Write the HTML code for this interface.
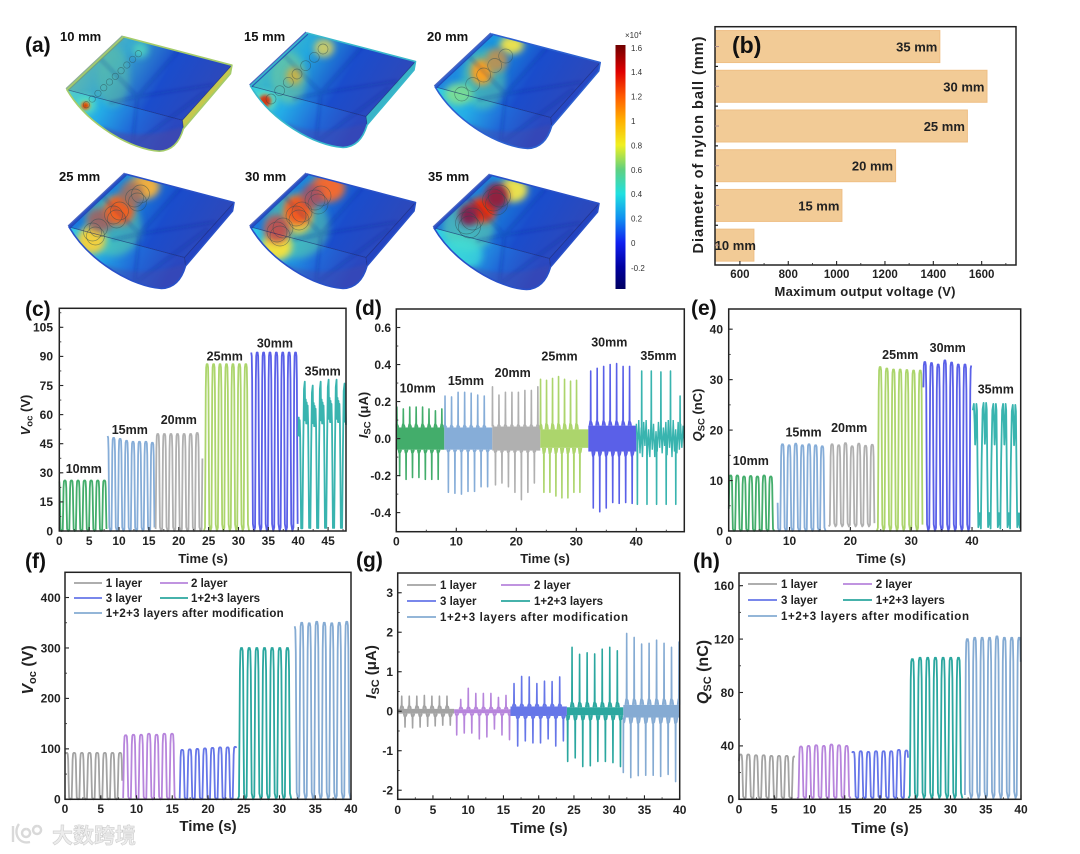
<!DOCTYPE html>
<html lang="en">
<head>
<meta charset="utf-8">
<title>Nylon ball triboelectric output figure</title>
<style>
html,body{margin:0;padding:0;background:#fff;}
body{width:1080px;height:854px;overflow:hidden;}
svg{display:block;filter:blur(0.35px);font-family:"Liberation Sans","Noto Sans CJK SC",sans-serif;}
.pl{font-weight:700;font-size:21px;fill:#111;}
.bx{font-weight:700;font-size:13px;fill:#111;}
.cb{font-size:8px;fill:#333;}
.tt{font-weight:700;fill:#222;}
</style>
</head>
<body>
<svg id="figure" xmlns="http://www.w3.org/2000/svg" width="1080" height="854" viewBox="0 0 1080 854">
  <defs>
    <linearGradient id="jet" x1="0" y1="0" x2="0" y2="1">
      <stop offset="0" stop-color="#700000"/><stop offset=".11" stop-color="#e00000"/>
      <stop offset=".21" stop-color="#ff5a00"/><stop offset=".31" stop-color="#ffb000"/>
      <stop offset=".41" stop-color="#f0f020"/><stop offset=".51" stop-color="#60d080"/>
      <stop offset=".61" stop-color="#20e0e0"/><stop offset=".71" stop-color="#1090f0"/>
      <stop offset=".81" stop-color="#1020f0"/><stop offset=".91" stop-color="#0000a0"/>
      <stop offset="1" stop-color="#000060"/>
    </linearGradient>
    <filter id="soft" x="-60%" y="-60%" width="220%" height="220%"><feGaussianBlur stdDeviation="3.5"/></filter>
    <filter id="softer" x="-60%" y="-60%" width="220%" height="220%"><feGaussianBlur stdDeviation="1.6"/></filter>
    <clipPath id="boxClip"><path d="M0,0 L108.5,28.5 L107,37 L60,92 C56,106 48,114 36,114.5 C8,113 -36,88 -56.5,53 Z"/></clipPath>
  </defs>
  <rect width="1080" height="854" fill="#fff"/>

  <text class="pl" x="25" y="52">(a)</text>
  <text class="pl" x="25" y="316">(c)</text>
  <text class="pl" x="355" y="315">(d)</text>
  <text class="pl" x="691" y="315">(e)</text>
  <text class="pl" x="25" y="568">(f)</text>
  <text class="pl" x="356" y="567">(g)</text>
  <text class="pl" x="693" y="568">(h)</text>

  <g id="simulations"></g>

  <g>
    <text class="bx" x="60" y="41">10 mm</text>
    <text class="bx" x="244" y="41">15 mm</text>
    <text class="bx" x="427" y="41">20 mm</text>
    <text class="bx" x="59" y="181">25 mm</text>
    <text class="bx" x="245" y="181">30 mm</text>
    <text class="bx" x="428" y="181">35 mm</text>
  </g>

  <g>
    <rect x="615.5" y="45" width="10" height="244" fill="url(#jet)"/>
    <text class="cb" x="625" y="38" font-size="7">×10<tspan dy="-3" font-size="5">4</tspan></text>
    <text class="cb" x="631" y="51">1.6</text>
    <text class="cb" x="631" y="75">1.4</text>
    <text class="cb" x="631" y="99.5">1.2</text>
    <text class="cb" x="631" y="124">1</text>
    <text class="cb" x="631" y="148.5">0.8</text>
    <text class="cb" x="631" y="173">0.6</text>
    <text class="cb" x="631" y="197">0.4</text>
    <text class="cb" x="631" y="221.5">0.2</text>
    <text class="cb" x="631" y="246">0</text>
    <text class="cb" x="631" y="271">-0.2</text>
  </g>

  <g id="plots"></g>

  <text class="pl" x="732" y="53" style="font-size:23px">(b)</text>

  <text class="tt" font-size="14.5" textLength="217" transform="translate(703,145) rotate(-90)" text-anchor="middle">Diameter of nylon ball (mm)</text>
  <text class="tt" font-size="13" textLength="181" x="865" y="296" text-anchor="middle">Maximum output voltage (V)</text>

  <text class="tt" font-size="13" x="203" y="563" text-anchor="middle">Time (s)</text>
  <text class="tt" font-size="13" x="545" y="563" text-anchor="middle">Time (s)</text>
  <text class="tt" font-size="13" x="881" y="563" text-anchor="middle">Time (s)</text>
  <text class="tt" font-size="15" x="208" y="831" text-anchor="middle">Time (s)</text>
  <text class="tt" font-size="15" x="539" y="833" text-anchor="middle">Time (s)</text>
  <text class="tt" font-size="15" x="880" y="833" text-anchor="middle">Time (s)</text>

  <text class="tt" font-size="13" transform="translate(30,415) rotate(-90)" text-anchor="middle"><tspan font-style="italic">V</tspan><tspan dy="2.5" font-size="9.5">oc</tspan><tspan dy="-2.5"> (V)</tspan></text>
  <text class="tt" font-size="13" transform="translate(368,415) rotate(-90)" text-anchor="middle"><tspan font-style="italic">I</tspan><tspan dy="2.5" font-size="9.5">SC</tspan><tspan dy="-2.5"> (μA)</tspan></text>
  <text class="tt" font-size="13" transform="translate(702,415) rotate(-90)" text-anchor="middle"><tspan font-style="italic">Q</tspan><tspan dy="2.5" font-size="9.5">SC</tspan><tspan dy="-2.5"> (nC)</tspan></text>
  <text class="tt" font-size="16" transform="translate(33,670) rotate(-90)" text-anchor="middle"><tspan font-style="italic">V</tspan><tspan dy="3" font-size="11">oc</tspan><tspan dy="-3"> (V)</tspan></text>
  <text class="tt" font-size="15" transform="translate(376,672) rotate(-90)" text-anchor="middle"><tspan font-style="italic">I</tspan><tspan dy="3" font-size="11">SC</tspan><tspan dy="-3"> (μA)</tspan></text>
  <text class="tt" font-size="16" transform="translate(708,672) rotate(-90)" text-anchor="middle"><tspan font-style="italic">Q</tspan><tspan dy="3" font-size="11">SC</tspan><tspan dy="-3"> (nC)</tspan></text>

  <g opacity=".95">
    <path d="M13,826 L13,842 M19,824 C13,832 18,845 30,842 M26,829 a4,4 0 1 0 .1,0 M37,826 a4,4 0 1 0 .1,0" fill="none" stroke="#d8d8d8" stroke-width="2.4"/>
    <text x="52" y="843" font-size="21" font-weight="700" fill="#ececec" stroke="#cdcdcd" stroke-width=".6" font-family="'Liberation Sans','Noto Sans CJK SC',sans-serif">大数跨境</text>
  </g>
</svg>

<script>
/* ===== (b) bar chart data ===== */
const bCategories = ['35 mm', '30 mm', '25 mm', '20 mm', '15 mm', '10 mm'];
const bValues = [1427, 1622, 1541, 1244, 1022, 658];
const bXTicks = [600, 800, 1000, 1200, 1400, 1600];
const bXMinor = [700, 900, 1100, 1300, 1500, 1700];

/* ===== segment labels ===== */
const sizeLabels = ['10mm', '15mm', '20mm', '25mm', '30mm', '35mm'];
const layerLabels = ['1 layer', '2 layer', '3 layer', '1+2+3 layers', '1+2+3 layers after modification'];

/* ===== (c) Voc vs size ===== */
const cXTicks = [0, 5, 10, 15, 20, 25, 30, 35, 40, 45];
const cYTicks = [0, 15, 30, 45, 60, 75, 90, 105];
const cFirstPeak = [-0.15, 8.03, 16.5, 24.76, 32.07, 39.77];
const cPeriod = [1.1, 1.08, 1.1, 1.08, 1.07, 1.33];
const cPeaks = [
  [26, 26, 26, 26, 26, 26, 26, 26],
  [49, 48, 47.5, 46.5, 46, 46, 46, 45.5],
  [50, 50, 50, 50, 50, 50, 50.5, 44],
  [86, 86, 86, 86, 86, 86, 86],
  [92, 92, 92, 92, 92, 92, 92, 92],
  [68, 77, 75, 77, 78, 78, 76, 76]
];
const cLabelTimes = [4.1, 11.8, 20.0, 27.7, 36.1, 44.1];
const cLabelValues = [32.3, 52.4, 57.6, 90.2, 97, 82.5];

/* ===== (d) Isc vs size ===== */
const dXTicks = [0, 10, 20, 30, 40];
const dYTicks = [-0.4, -0.2, 0.0, 0.2, 0.4, 0.6];
const dUpFirst = [0.1, 8.12, 16.03, 24.04, 32.4, 40.9];
const dDownFirst = [0.56, 8.68, 16.53, 24.6, 32.83, 40.18];
const dPeriod = [1.07, 1.09, 1.08, 1.0, 1.08, 1.6];
const dUpPeaks = [
  [0.17, 0.16, 0.17, 0.17, 0.17, 0.16, 0.15, 0.16],
  [0.23, 0.225, 0.25, 0.25, 0.245, 0.235, 0.23],
  [0.28, 0.235, 0.25, 0.25, 0.25, 0.26, 0.26, 0.28],
  [0.32, 0.315, 0.325, 0.335, 0.32, 0.31, 0.315],
  [0.365, 0.38, 0.39, 0.40, 0.405, 0.39, 0.39],
  [0.365, 0.365, 0.36, 0.365, 0.23]
];
const dDownPeaks = [
  [-0.2, -0.22, -0.21, -0.21, -0.22, -0.22, -0.22],
  [-0.29, -0.295, -0.30, -0.285, -0.285, -0.26, -0.26],
  [-0.25, -0.24, -0.26, -0.29, -0.33, -0.29, -0.24],
  [-0.29, -0.29, -0.31, -0.32, -0.32, -0.29, -0.29],
  [-0.375, -0.395, -0.375, -0.345, -0.35, -0.345, -0.35],
  [-0.355, -0.355, -0.355, -0.355, -0.355]
];
const dBand = [0.06, 0.06, 0.065, 0.05, 0.07, 0];
const dBump = [1.3, 1.2, 1.15, 1.6, 1.35, 1];
const dRipple = [0.08, -0.05, 0.10, -0.08, 0.06, -0.10, 0.09, -0.04, 0.10, -0.09, 0.05, -0.10, 0.10, -0.06, 0.08, -0.10, 0.04, -0.07, 0.09, -0.05, 0.10, -0.08, 0.06, -0.04, 0.09, -0.09, 0.10, -0.05, 0.07, -0.10, 0.10, -0.07, 0.05, -0.08, 0.09, -0.06, 0.08, -0.05, 0.07, -0.04];
const dLabelTimes = [3.56, 11.6, 19.4, 27.2, 35.5, 43.7];
const dLabelValues = [0.272, 0.315, 0.357, 0.446, 0.523, 0.449];

/* ===== (e) Qsc vs size ===== */
const eXTicks = [0, 10, 20, 30, 40];
const eYTicks = [0, 10, 20, 30, 40];
const eFirstPeak = [0.33, 7.76, 17.0, 24.9, 32.25, 40.3];
const ePeriod = [1.1, 1.09, 1.1, 1.1, 1.1, 1.6];
const ePeaks = [
  [11, 11, 10.8, 10.9, 10.8, 11, 10.8],
  [14, 17.2, 17, 17.3, 17, 17.2, 17, 16.8],
  [17.2, 17, 17.4, 16.8, 17.3, 16.9, 17.1],
  [32.5, 32.2, 32, 32, 31.9, 31.8, 31.8],
  [33.5, 33.3, 33, 33.8, 33.4, 33, 33, 32.8],
  [25.2, 25.4, 25.2, 25.2, 25]
];
const eBase = [0, 0, 0.9, 0, 0, 0];
const eLabelTimes = [3.63, 12.3, 19.8, 28.2, 36, 43.9];
const eLabelValues = [14, 19.6, 20.5, 35, 36.4, 28.1];

/* ===== (f) Voc vs layers ===== */
const fgXTicks = [0, 5, 10, 15, 20, 25, 30, 35, 40];
const fYTicks = [0, 100, 200, 300, 400];
const fFirstPeak = [0.23, 8.5, 16.4, 24.7, 32.07];
const fPeriod = [1.07, 1.08, 1.06, 1.07, 1.05];
const fPeaks = [
  [92, 92, 92, 92, 92, 92, 92, 92],
  [127, 128, 128, 130, 128, 130, 130],
  [98, 99, 100, 101, 102, 103, 103, 104],
  [300, 300, 300, 300, 300, 300, 300],
  [343, 350, 349, 352, 350, 349, 350, 352]
];

/* ===== (g) Isc vs layers ===== */
const gYTicks = [-2, -1, 0, 1, 2, 3];
const gUpFirst = [0.57, 8.94, 16.5, 24.73, 32.48];
const gDownFirst = [1.04, 8.37, 17.02, 24.11, 32.0];
const gPeriod = [1.07, 1.07, 1.08, 1.07, 1.06];
const gUpPeaks = [
  [0.38, 0.38, 0.38, 0.4, 0.38, 0.38, 0.38],
  [0.3, 0.58, 0.45, 0.45, 0.45, 0.35, 0.4],
  [0.7, 0.88, 0.87, 0.7, 0.76, 0.75, 0.87],
  [1.62, 1.44, 1.48, 1.45, 1.57, 1.62, 1.53],
  [1.97, 1.87, 1.7, 1.72, 1.8, 1.72, 1.62, 1.75]
];
const gDownPeaks = [
  [-0.4, -0.42, -0.4, -0.38, -0.37, -0.35, -0.35],
  [-0.6, -0.55, -0.55, -0.7, -0.65, -0.45, -0.6, -0.72],
  [-0.88, -0.75, -0.8, -0.8, -0.7, -0.88, -0.75],
  [-1.27, -1.18, -1.4, -1.38, -1.27, -1.27, -1.3, -1.4],
  [-1.55, -1.68, -1.63, -1.62, -1.62, -1.65, -1.6, -1.78]
];
const gBand = [0.06, 0.05, 0.12, 0.1, 0.16];
const gBump = [2.2, 2, 1.5, 2.2, 1.9];

/* ===== (h) Qsc vs layers ===== */
const hYTicks = [0, 40, 80, 120, 160];
const hFirstPeak = [0.24, 8.8, 16.2, 24.6, 32.4];
const hPeriod = [1.09, 1.08, 1.08, 1.09, 1.05];
const hPeaks = [
  [33.5, 33.5, 33, 33, 32.5, 32.5, 32.5, 32],
  [39.5, 40, 40.5, 40, 41, 40.5, 40],
  [35.5, 36, 35.5, 36, 36, 36, 37, 36.5],
  [105, 106, 106, 106, 106, 106, 106],
  [120, 121, 121, 121, 122, 121, 121, 121]
];

/* ===== styling & layout (not data) ===== */
const sizeColors = ['#43ad6b', '#86add8', '#b0b0b0', '#acd56c', '#5a60e8', '#39b4af'];
const layerColors = ['#a3a3a3', '#b785dc', '#6676e8', '#2ba79f', '#85abd3'];
const pulseU = [-0.5, -0.34, -0.28, -0.22, -0.16, -0.08, 0.06, 0.14, 0.2, 0.26, 0.32, 0.5];
const pulseV = [0, 0.02, 0.4, 0.85, 0.98, 1, 1, 0.98, 0.85, 0.4, 0.04, 0];
const ruggedCU = [-0.3, -0.2, -0.1, 0, 0.06, 0.12, 0.18, 0.24, 0.3, 0.36, 0.42, 0.48, 0.54, 0.58, 0.62, 0.66, 0.7];
const ruggedCV = [0.02, 0.55, 0.95, 1, 0.74, 0.88, 0.72, 0.86, 0.72, 0.84, 0.72, 0.4, 0.02, 0.18, 0.08, 0.18, 0.02];
const ruggedEU = [-0.28, -0.2, -0.1, 0, 0.08, 0.13, 0.2, 0.26, 0.32, 0.38, 0.46, 0.52, 0.56, 0.62, 0.66, 0.72];
const ruggedEV = [0.02, 0.55, 0.95, 1, 0.85, 0.68, 0.8, 1, 0.95, 0.5, 0.03, 0.05, 0.14, 0.06, 0.14, 0.02];

const pB = {x0: 715, x1: 1016, y0: 265, y1: 26.7, xMin: 497, xMax: 1742, yMin: 0, yMax: 6};
const pC = {x0: 59.3, x1: 346, y0: 531, y1: 308.3, xMin: 0, xMax: 48, yMin: 0, yMax: 114.8};
const pD = {x0: 396.3, x1: 684.3, y0: 531.7, y1: 309, xMin: 0, xMax: 48, yMin: -0.503, yMax: 0.7};
const pE = {x0: 728.7, x1: 1020.7, y0: 531, y1: 309, xMin: 0, xMax: 48, yMin: 0, yMax: 44};
const pF = {x0: 65, x1: 351, y0: 799.3, y1: 572.3, xMin: 0, xMax: 40, yMin: 0, yMax: 450};
const pG = {x0: 397.7, x1: 679.7, y0: 799.3, y1: 573, xMin: 0, xMax: 40, yMin: -2.23, yMax: 3.5};
const pH = {x0: 739, x1: 1021, y0: 799.3, y1: 573, xMin: 0, xMax: 40, yMin: 0, yMax: 169.5};

const NS = 'http://www.w3.org/2000/svg';
const plots = document.getElementById('plots');
const sims = document.getElementById('simulations');
const defs = document.querySelector('#figure defs');

function mk(tag, attrs, parent) {
  const el = document.createElementNS(NS, tag);
  for (const k in attrs) el.setAttribute(k, attrs[k]);
  parent.appendChild(el);
  return el;
}
function xScale(p, v) { return p.x0 + (v - p.xMin) / (p.xMax - p.xMin) * (p.x1 - p.x0); }
function yScale(p, v) { return p.y0 + (v - p.yMin) / (p.yMax - p.yMin) * (p.y1 - p.y0); }
function fmt(n) { return n.toFixed(2); }

function drawText(parent, x, y, str, anchor, size, weight, name) {
  const el = mk('text', {x: fmt(x), y: fmt(y), 'text-anchor': anchor, 'font-size': size, 'font-weight': weight, fill: '#222'}, parent);
  el.textContent = str;
  
  
  return el;
}

function drawAxes(key, p, xTicks, xStepMinor, yTicks, yStepMinor, xLabelY, yLabelX, yDecimals) {
  const g = mk('g', {}, plots);
  
  
  const frame = mk('rect', {x: p.x0, y: p.y1, width: p.x1 - p.x0, height: p.y0 - p.y1, fill: 'none', stroke: '#222', 'stroke-width': 1.5}, g);
  
  
  xTicks.forEach(function (v) {
    const tick = mk('line', {x1: fmt(xScale(p, v)), x2: fmt(xScale(p, v)), y1: p.y0, y2: p.y0 - 4, stroke: '#222', 'stroke-width': 1.1}, g);
    
    
    drawText(g, xScale(p, v), xLabelY, String(v), 'middle', 12, 700, key + '-x-tick-label');
  });
  for (let v = p.xMin + xStepMinor; v < p.xMax; v += xStepMinor) {
    const minor = mk('line', {x1: fmt(xScale(p, v)), x2: fmt(xScale(p, v)), y1: p.y0, y2: p.y0 - 2, stroke: '#333', 'stroke-width': 0.9}, g);
    
    
  }
  yTicks.forEach(function (v) {
    const tick = mk('line', {x1: p.x0, x2: p.x0 + 4, y1: fmt(yScale(p, v)), y2: fmt(yScale(p, v)), stroke: '#222', 'stroke-width': 1.1}, g);
    
    
    drawText(g, yLabelX, yScale(p, v) + 4.3, v.toFixed(yDecimals), 'end', 12, 700, key + '-y-tick-label');
  });
  for (let v = yTicks[0] + yStepMinor / 1; v < p.yMax; v += yStepMinor) {
    const minor = mk('line', {x1: p.x0, x2: p.x0 + 2, y1: fmt(yScale(p, v)), y2: fmt(yScale(p, v)), stroke: '#333', 'stroke-width': 0.9}, g);
    
    
  }
}

function waveform(key, p, segName, color, first, period, peaks, base, tMin, tMax, shapeU, shapeV) {
  const pts = [];
  peaks.forEach(function (peak, i) {
    const centre = first + i * period;
    shapeU.forEach(function (u, j) {
      const t = centre + u * period;
      if (t < tMin || t > tMax) return;
      const v = base + (peak - base) * shapeV[j];
      pts.push(fmt(xScale(p, t)) + ',' + fmt(yScale(p, v)));
    });
  });
  const el = mk('polyline', {points: pts.join(' '), fill: 'none', stroke: color, 'stroke-width': 1.8, 'stroke-linejoin': 'round'}, plots);
  
  
}

function spikeTrain(key, p, segName, color, first, period, peaks, band, bump, tMin, tMax) {
  let d = '';
  peaks.forEach(function (peak, i) {
    const t = first + i * period;
    if (t < tMin || t > tMax) return;
    const sign = peak >= 0 ? 1 : -1;
    const b = band * sign;
    const seq = [[t - 0.2, b], [t - 0.09, b * bump], [t - 0.03, b * bump], [t, peak], [t + 0.03, b * bump], [t + 0.16, b * bump * 0.9], [t + 0.26, b]];
    seq.forEach(function (q, n) {
      const tt = Math.max(tMin, Math.min(tMax, q[0]));
      d += (n ? 'L' : 'M') + fmt(xScale(p, tt)) + ',' + fmt(yScale(p, q[1]));
    });
  });
  const el = mk('path', {d: d, fill: band ? color : 'none', 'fill-opacity': band ? 0.9 : 0, stroke: color, 'stroke-width': 1.6, 'stroke-linejoin': 'round'}, plots);
  
  
}

function bandRect(key, p, segName, color, band, tMin, tMax) {
  if (!band) return;
  const el = mk('rect', {x: fmt(xScale(p, tMin)), width: fmt(xScale(p, tMax) - xScale(p, tMin)), y: fmt(yScale(p, band)), height: fmt(yScale(p, -band) - yScale(p, band)), fill: color}, plots);
  
  
}

function drawLegend(key, rowY, line1X, text1X, line2X, text2X, lineW, modWidth) {
  const g = mk('g', {}, plots);
  
  
  const cols = [[line1X, text1X, 0], [line2X, text2X, 0], [line1X, text1X, 1], [line2X, text2X, 1], [line1X, text1X, 2]];
  layerLabels.forEach(function (name, i) {
    const c = cols[i];
    const swatch = mk('line', {x1: c[0], x2: c[0] + lineW, y1: rowY[c[2]], y2: rowY[c[2]], stroke: layerColors[i], 'stroke-width': 1.7}, g);
    
    
    const t = drawText(g, c[1], rowY[c[2]] + 4, name, 'start', 11.5, 700, key + '-legend-entry');
    if (i === 4) t.setAttribute('textLength', modWidth);
  });
}

/* ---------- (b) ---------- */
bValues.forEach(function (v, i) {
  const band = (pB.y0 - pB.y1) / bCategories.length;
  const cy = pB.y1 + band * (i + 0.5);
  const bar = mk('rect', {x: pB.x0, y: fmt(cy - 16), width: fmt(xScale(pB, v) - pB.x0), height: 32, fill: '#f2cb96', stroke: '#efbf85', 'stroke-width': 1}, plots);
  
  
});
const bFrame = mk('rect', {x: pB.x0, y: pB.y1, width: pB.x1 - pB.x0, height: pB.y0 - pB.y1, fill: 'none', stroke: '#222', 'stroke-width': 1.5}, plots);


bValues.forEach(function (v, i) {
  const band = (pB.y0 - pB.y1) / bCategories.length;
  const cy = pB.y1 + band * (i + 0.5);
  const small = i === bValues.length - 1;
  drawText(plots, small ? xScale(pB, v) + 2 : xScale(pB, v) - 2.5, cy + 5, bCategories[i], 'end', 13, 700, 'bar-label');
  const tc = mk('line', {x1: pB.x0, x2: pB.x0 + 4, y1: fmt(cy), y2: fmt(cy), stroke: '#a88', 'stroke-width': 1}, plots);
  
  
  if (i > 0) {
    const tb = mk('line', {x1: pB.x0, x2: pB.x0 + 3, y1: fmt(pB.y1 + band * i), y2: fmt(pB.y1 + band * i), stroke: '#222', 'stroke-width': 1.2}, plots);
    
    
  }
});
bXTicks.forEach(function (v) {
  const tick = mk('line', {x1: fmt(xScale(pB, v)), x2: fmt(xScale(pB, v)), y1: pB.y0, y2: pB.y0 - 4, stroke: '#222', 'stroke-width': 1.1}, plots);
  
  
  drawText(plots, xScale(pB, v), 278, String(v), 'middle', 11.5, 700, 'b-x-tick-label');
});
bXMinor.forEach(function (v) {
  const tick = mk('line', {x1: fmt(xScale(pB, v)), x2: fmt(xScale(pB, v)), y1: pB.y0, y2: pB.y0 - 2, stroke: '#333', 'stroke-width': 0.9}, plots);
  
  
});

/* ---------- (c) ---------- */
cPeaks.forEach(function (peaks, i) {
  const rugged = i === 5;
  waveform('c', pC, sizeLabels[i], sizeColors[i], cFirstPeak[i], cPeriod[i], peaks, 0, i * 8, i * 8 + 8, rugged ? ruggedCU : pulseU, rugged ? ruggedCV : pulseV);
});
drawAxes('c', pC, cXTicks, 2.5, cYTicks, 7.5, 545, 53, 0);
sizeLabels.forEach(function (name, i) {
  drawText(plots, xScale(pC, cLabelTimes[i]), yScale(pC, cLabelValues[i]) + 4.5, name, 'middle', 12.5, 700, 'c-segment-label');
});

/* ---------- (d) ---------- */
dUpPeaks.forEach(function (peaks, i) {
  const s = i * 8, e = s + 8;
  bandRect('d', pD, sizeLabels[i], sizeColors[i], dBand[i], s, e);
  if (i === 5) {
    const rip = dRipple.map(function (v, n) {
      return fmt(xScale(pD, s + n * 8 / (dRipple.length - 1))) + ',' + fmt(yScale(pD, v));
    }).join(' ');
    const rp = mk('polyline', {points: rip, fill: 'none', stroke: sizeColors[i], 'stroke-width': 1.4}, plots);
    
    
  }
  spikeTrain('d', pD, sizeLabels[i], sizeColors[i], dUpFirst[i], dPeriod[i], peaks, dBand[i], dBump[i], s, e);
  spikeTrain('d', pD, sizeLabels[i], sizeColors[i], dDownFirst[i], dPeriod[i], dDownPeaks[i], dBand[i], dBump[i], s, e);
});
drawAxes('d', pD, dXTicks, 5, dYTicks, 0.1, 545.5, 391, 1);
sizeLabels.forEach(function (name, i) {
  drawText(plots, xScale(pD, dLabelTimes[i]), yScale(pD, dLabelValues[i]) + 4.5, name, 'middle', 12.5, 700, 'd-segment-label');
});

/* ---------- (e) ---------- */
ePeaks.forEach(function (peaks, i) {
  const rugged = i === 5;
  waveform('e', pE, sizeLabels[i], sizeColors[i], eFirstPeak[i], ePeriod[i], peaks, eBase[i], i * 8, i * 8 + 8, rugged ? ruggedEU : pulseU, rugged ? ruggedEV : pulseV);
});
drawAxes('e', pE, eXTicks, 5, eYTicks, 5, 545, 723, 0);
sizeLabels.forEach(function (name, i) {
  drawText(plots, xScale(pE, eLabelTimes[i]), yScale(pE, eLabelValues[i]) + 4.5, name, 'middle', 12.5, 700, 'e-segment-label');
});

/* ---------- (f) ---------- */
fPeaks.forEach(function (peaks, i) {
  waveform('f', pF, 'series-' + (i + 1), layerColors[i], fFirstPeak[i], fPeriod[i], peaks, 0, i * 8, i * 8 + 8, pulseU, pulseV);
});
drawAxes('f', pF, fgXTicks, 2.5, fYTicks, 50, 813, 60.7, 0);
drawLegend('f', [583, 598, 613], 74, 105.7, 160, 191, 28, 178);

/* ---------- (g) ---------- */
gUpPeaks.forEach(function (peaks, i) {
  const s = i * 8, e = s + 8;
  const name = 'series-' + (i + 1);
  bandRect('g', pG, name, layerColors[i], gBand[i], s, e);
  spikeTrain('g', pG, name, layerColors[i], gUpFirst[i], gPeriod[i], peaks, gBand[i], gBump[i], s, e);
  spikeTrain('g', pG, name, layerColors[i], gDownFirst[i], gPeriod[i], gDownPeaks[i], gBand[i], gBump[i], s, e);
});
drawAxes('g', pG, fgXTicks, 2.5, gYTicks, 0.5, 814, 393, 0);
drawLegend('g', [585, 601, 617], 407, 440, 501, 534, 29, 188);

/* ---------- (h) ---------- */
hPeaks.forEach(function (peaks, i) {
  waveform('h', pH, 'series-' + (i + 1), layerColors[i], hFirstPeak[i], hPeriod[i], peaks, 0.8, i * 8, i * 8 + 8, pulseU, pulseV);
});
drawAxes('h', pH, fgXTicks, 2.5, hYTicks, 20, 813.7, 734, 0);
drawLegend('h', [584, 600, 616], 748, 781, 843, 875.7, 29, 188);

/* ---------- (a) stress maps ---------- */
const boxes = [
  {name: '10mm', tx: 123.4, ty: 36.7, rim: '#a5cc6a', side: '#c4c84e', topL: '#70c0a0', topM: '#38a8d0', frontL: '#58d0c8', n: 10, r: 3.2, c: 1, ax: [-37, 68, 15, 17],
   hot: [[-38, 68, 10, 9, '#58e0c0', .9], [-38, 69, 4.5, 4, '#f08010', 1], [-38, 69, 2, 2, '#c01000', 1], [17, 13, 8, 8, '#50d0c0', .9], [-10, 40, 16, 30, '#60c0a0', .5]]},
  {name: '15mm', tx: 307, ty: 33, rim: '#38b8cc', side: '#38b4c8', topL: '#58c8b0', topM: '#24a8de', frontL: '#38d4e0', n: 7, r: 5, c: 1, ax: [-36, 66, 16, 16],
   hot: [[-18, 45, 18, 26, '#80d090', .5], [-42, 68, 11, 10, '#70e0b0', .9], [-42, 68, 6, 6, '#d83010', .95], [-13, 43, 8, 9, '#d0b040', .9], [17, 15, 10, 9, '#d8d060', .9]]},
  {name: '20mm', tx: 491.7, ty: 34, rim: '#2c60d0', side: '#2648c4', topL: '#2878e0', topM: '#1898e0', frontL: '#30d0e8', n: 5, r: 7, c: 1, ax: [-30, 60, 14, 22],
   hot: [[-8, 45, 22, 30, '#60d0a0', .5], [-33, 60, 14, 11, '#80e090', .9], [-10, 38, 11, 13, '#f8a020', 1], [20, 11, 12, 9, '#e8e050', 1], [5, 26, 11, 12, '#c09050', .9]]},
  {name: '25mm', tx: 125.5, ty: 174, rim: '#2850c8', side: '#2444c0', topL: '#1c64dc', topM: '#1890e0', frontL: '#30c8e8', n: 3, r: 9, c: 3, ax: [-30, 58, 12, 24],
   hot: [[-12, 52, 28, 30, '#60d8a0', .5], [-34, 66, 14, 14, '#f0d040', 1], [-25, 46, 14, 12, '#a06060', .9], [-6, 36, 15, 15, '#f06020', 1], [19, 13, 15, 12, '#f0b040', 1], [6, 20, 12, 13, '#a07060', .9]]},
  {name: '30mm', tx: 307, ty: 174, rim: '#2850c8', side: '#2444c0', topL: '#1c64dc', topM: '#1890e0', frontL: '#30c8e8', n: 3, r: 10, c: 3, ax: [-27, 58, 11, 26],
   hot: [[-10, 52, 32, 32, '#60d8a0', .5], [-30, 72, 15, 14, '#f0e040', 1], [-9, 44, 14, 16, '#f0d040', .9], [-30, 55, 13, 14, '#c05050', .95], [-9, 36, 14, 15, '#f05a20', 1], [21, 14, 17, 14, '#f06a30', 1], [5, 22, 11, 12, '#a85060', .9]]},
  {name: '35mm', tx: 490.5, ty: 175, rim: '#2850c8', side: '#2444c0', topL: '#1c60dc', topM: '#1890e0', frontL: '#30d4ec', n: 2, r: 11, c: 3, ax: [-21, 48, 6, 25],
   hot: [[-22, 52, 26, 24, '#70e0a0', .5], [-30, 80, 22, 16, '#40e0d8', .7], [23, 15, 14, 12, '#e8e050', 1], [-8, 35, 14, 13, '#e83010', 1], [6, 21, 12, 13, '#902040', 1], [-22, 40, 10, 11, '#802050', 1]]}
];

boxes.forEach(function (b, idx) {
  const g = mk('g', {transform: 'translate(' + b.tx + ',' + b.ty + ')'}, sims);
  
  

  const topGrad = mk('linearGradient', {id: 'top' + idx, x1: 0, y1: 0.2, x2: 1, y2: 0.5}, defs);
  [[0, b.topL], [0.32, b.topM], [0.62, '#1a4ccc'], [1, '#3048b8']].forEach(function (s) {
    mk('stop', {offset: s[0], 'stop-color': s[1]}, topGrad);
  });
  const frontGrad = mk('linearGradient', {id: 'front' + idx, x1: 0, y1: 0, x2: 1, y2: 0.3}, defs);
  [[0, b.frontL], [0.36, '#24ace6'], [0.68, '#2068d8'], [1, '#2a48c0']].forEach(function (s) {
    mk('stop', {offset: s[0], 'stop-color': s[1]}, frontGrad);
  });

  const side = mk('path', {d: 'M108.5,28.5 L107,37 L60,92 L59,83.5 Z', fill: b.side}, g);
  
  
  const front = mk('path', {d: 'M-56.5,53 L59,83.5 L60,92 C56,106 48,114 36,114.5 C8,113 -36,88 -56.5,53 Z', fill: 'url(#front' + idx + ')'}, g);
  
  
  const top = mk('path', {d: 'M0,0 L108.5,28.5 L59,83.5 L-56.5,53 Z', fill: 'url(#top' + idx + ')'}, g);
  
  

  const clip = mk('g', {'clip-path': 'url(#boxClip)'}, g);
  
  
  b.hot.forEach(function (h) {
    const el = mk('ellipse', {cx: h[0], cy: h[1], rx: h[2], ry: h[3], fill: h[4], opacity: h[5], filter: h[2] < 7 ? 'url(#softer)' : 'url(#soft)'}, clip);
    
    
  });
  const facets = mk('path', {d: 'M55,14 L14,60 L9,108 M-28,17 L14,60 M82,55 L11,108 M-14,66 L14,60 L90,48', fill: 'none', stroke: '#001a90', 'stroke-opacity': 0.22, 'stroke-width': 3, filter: 'url(#softer)'}, clip);
  
  
  const lower = mk('path', {d: 'M-20,90 C0,100 30,100 59,90 L59,120 L-20,120 Z', fill: '#4a4aa8', opacity: idx === 0 ? 0.55 : 0.35, filter: 'url(#softer)'}, clip);
  
  

  for (let i = 0; i < b.n; i++) {
    const f = b.n > 1 ? i / (b.n - 1) : 0;
    const cx = b.ax[0] + f * (b.ax[2] - b.ax[0]);
    const cy = b.ax[1] + f * (b.ax[3] - b.ax[1]);
    for (let k = 0; k < b.c; k++) {
      const ball = mk('circle', {cx: fmt(cx + k * 3 - (b.c - 1) * 1.5), cy: fmt(cy + (k % 2 ? 4 : -k * 2)), r: b.r, fill: 'none', stroke: '#2e4a50', 'stroke-opacity': 0.55, 'stroke-width': 0.65}, g);
      
      
    }
  }

  const edges = mk('path', {d: 'M-56.5,53 L59,83.5 L108.5,28.5 M59,83.5 L60,92', fill: 'none', stroke: '#0c1860', 'stroke-opacity': 0.6, 'stroke-width': 0.7}, g);
  
  
  const leftEdge = mk('path', {d: 'M0,0 L-56.5,53', fill: 'none', stroke: idx === 0 ? '#6f9a80' : '#2040b0', 'stroke-opacity': 0.8, 'stroke-width': 4}, g);
  
  
  const rim = mk('path', {d: 'M0,0 L108.5,28.5 L107,37 L60,92 C56,106 48,114 36,114.5 C8,113 -36,88 -56.5,53 Z', fill: 'none', stroke: b.rim, 'stroke-width': 1.6, 'stroke-linejoin': 'round'}, g);
  
  
});
</script>
</body>
</html>
